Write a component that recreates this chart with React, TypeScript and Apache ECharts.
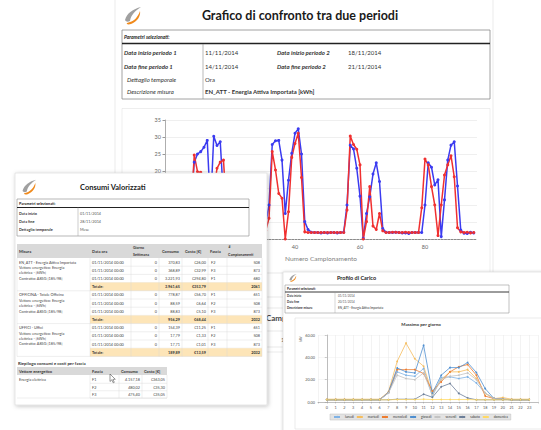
import React, { useEffect, useRef } from "react";
import * as echarts from "echarts";

// ---------- Grafico di confronto (96 campioni orari) ----------
const periodoBlu = [
  1.9, 1.8, 1.9, 1.8, 1.9, 1.8, 2.0, 2.1,
  9.5, 22.6, 25.0, 25.7, 27.0, 29.0, 9.0, 30.2, 27.5, 28.6, 12.0, 3.0,
  2.2, 2.0, 1.9, 1.9, 1.8, 1.9, 1.8, 1.9, 1.9, 1.8, 2.0,
  4.5, 10.0, 27.8, 28.9, 29.0, 23.2, 7.5, 17.3, 25.2, 31.1, 32.4, 25.0, 5.1, 2.8,
  2.0, 1.9, 1.9, 1.8, 1.9, 1.8, 1.9, 1.9, 1.8, 1.9, 2.0,
  10.0, 27.6, 26.5, 20.8, 12.6, 0.2, 7.5, 12.4, 19.1, 22.4, 16.9, 3.1,
  2.0, 1.9, 1.9, 2.0, 1.9, 1.8, 1.8, 1.6, 1.9, 1.9, 1.9,
  1.9, 10.0, 22.4, 21.1, 15.9, 17.4, 0.7, 11.5, 23.2, 27.6, 28.6, 15.6, 2.6,
  1.7, 1.6, 2.0, 1.8,
];
const periodoRosso = [
  2.0, 1.9, 1.9, 2.0, 1.9, 1.9, 2.0, 2.2,
  8.0, 24.7, 19.8, 19.6, 15.0, 12.0, 2.5, 14.0, 20.8, 22.6, 23.2, 7.0,
  2.5, 2.0, 1.9, 2.0, 1.9, 1.9, 2.0, 1.9, 1.9, 2.0, 1.9,
  2.5, 6.1, 25.7, 20.3, 13.4, 12.0, 0.0, 8.0, 24.0, 28.1, 31.1, 18.1, 2.1, 1.9,
  1.9, 1.9, 1.9, 1.9, 1.9, 1.9, 1.9, 1.9, 1.9, 1.9, 1.9,
  8.5, 30.3, 27.8, 26.4, 21.8, 0.0, 5.1, 15.4, 3.8, 2.8, 7.5, 2.4,
  1.9, 1.9, 2.0, 2.0, 1.9, 1.9, 2.0, 1.9, 1.9, 1.9, 1.9,
  9.2, 23.5, 21.8, 15.4, 10.0, 1.0, 10.0, 18.8, 21.8, 24.5, 18.3, 3.3, 2.1,
  1.9, 2.0, 1.8, 1.9,
];

// ---------- Profilo di carico (massimo per giorno, ore 0..23) ----------
const giorni = ["lunedì", "martedì", "mercoledì", "giovedì", "venerdì", "sabato", "domenica"];
const coloriGiorni = ["#7fb2e5", "#f5bd5e", "#ed7d31", "#4f8fd0", "#c4c4c4", "#6d7f99", "#ffd966"];
const lunedi = [2, 2, 2, 2, 2, 2, 2, 8, 27, 24, 23, 30, 5, 22, 22.5, 21, 22.5, 17, 8, 3, 2.5, 2, 2, 2];
const martedi = [2.5, 2.5, 2.5, 2.5, 2.5, 2.5, 2.5, 9, 36.4, 52.7, 38.8, 32, 7.7, 20, 27, 27, 29, 21, 7.7, 3, 4, 2.5, 2.5, 2.5];
const mercoledi = [2, 2, 2, 2, 2, 2, 2, 8.5, 29, 29, 29, 25.5, 9.8, 18, 27, 31.6, 33.5, 24, 5.3, 3, 2.5, 2, 2, 2];
const giovedi = [2, 2, 2, 2, 2, 2, 2, 8.5, 30.5, 27, 26, 50.7, 8, 24, 30.8, 30.8, 35.3, 26.4, 12, 3, 2.5, 2, 2, 2];
const venerdi = [2, 2, 2, 2, 2, 2, 2, 8, 24, 21, 20, 26, 6, 20, 23, 24, 26, 20, 8, 3, 2.5, 2, 2, 2];
const sabato = [2, 2, 2, 2, 2, 2, 2, 2, 2.5, 2.5, 2.5, 7, 4.2, 13.6, 16.6, 7.7, 3.6, 2, 2, 2, 2, 2, 2, 2];
const domenica = [2, 2, 2, 2, 2, 2, 2, 2, 2.2, 2.2, 2.2, 2.5, 2.2, 2.2, 2.2, 2.2, 2.2, 2, 2, 2, 2, 2, 2, 2];
const profili = [lunedi, martedi, mercoledi, giovedi, venerdi, sabato, domenica];

// ---------- Consumi valorizzati (tabella) ----------
const misure = [
  ["EN_ATT - Energia Attiva Importata", "Vettore energetico: Energia", "elettrica - [kWh]", "Contratto: A8SG [185/98]"],
  ["OFFICINA - Totale Officina", "Vettore energetico: Energia", "elettrica - [kWh]", "Contratto: A8SG [185/98]"],
  ["UFFICI - Uffici", "Vettore energetico: Energia", "elettrica - [kWh]", "Contratto: A8SG [185/98]"],
];
const dataOra = "01/11/2014 00:00";
const consumi = [["370,83", "368,89", "3.221,93"], ["778,87", "88,59", "88,83"], ["154,39", "17,79", "17,71"]];
const costi = [["€26,00", "€32,99", "€294,80"], ["€56,70", "€6,64", "€5,10"], ["€11,25", "€1,33", "€1,01"]];
const fasce = [["F2", "F3", "F1"], ["F1", "F2", "F3"], ["F1", "F2", "F3"]];
const campionamenti = [["508", "873", "680"], ["651", "508", "873"], ["651", "508", "873"]];
const totConsumo = ["3.961,65", "956,29", "189,89"];
const totCosto = ["€353,79", "€68,44", "€13,59"];
const totCamp = ["2061", "2032", "2032"];
const riepFasce = ["F1", "F2", "F3"];
const riepConsumo = ["4.157,18", "480,02", "475,40"];
const riepCosto = ["€363,05", "€35,30", "€35,05"];

const LOGO_GREY = "M3 15 C5 8 11 4 19 2 C13 6 9 10 8 16 C6 17 4 17 3 15 Z";
const LOGO_ORANGE = "M8 17 C12 16 16 12 18 6 C19 11 15 17 9 19 C6 20 4 19 5 18 Z";
echarts.graphic.registerShape("logoGrey", echarts.graphic.extendPath(LOGO_GREY, {}));
echarts.graphic.registerShape("logoOrange", echarts.graphic.extendPath(LOGO_ORANGE, {}));

const FONT = "Lato";

function buildGraphics() {
  const els: any[] = [];
  const txt = (x: number, y: number, text: string, o: any = {}) =>
    els.push({
      type: "text", x, y, z: o.z ?? 1, silent: true, rotation: o.rot || 0,
      style: {
        text, fontSize: o.fs ?? 5, fontFamily: FONT,
        fontWeight: o.b ? "bold" : "normal", fontStyle: o.i ? "italic" : "normal",
        fill: o.c || "#333", align: o.a || "left", verticalAlign: "middle",
      },
    });
  const rect = (x: number, y: number, w: number, h: number, o: any = {}) =>
    els.push({
      type: "rect", z: o.z ?? 1, silent: true, shape: { x, y, width: w, height: h },
      style: {
        fill: o.f || "none", stroke: o.s || "none", lineWidth: o.lw ?? 0.5,
        shadowBlur: o.sb || 0, shadowColor: o.sc || "rgba(0,0,0,0)",
        shadowOffsetX: o.sx || 0, shadowOffsetY: o.sy || 0,
      },
    });
  const line = (x1: number, y1: number, x2: number, y2: number, o: any = {}) =>
    els.push({ type: "line", z: o.z ?? 1, silent: true, shape: { x1, y1, x2, y2 }, style: { stroke: o.s || "#ccc", lineWidth: o.lw ?? 0.5 } });
  const logo = (x: number, y: number, s: number, z: number) =>
    els.push({
      type: "group", x, y, scaleX: s, scaleY: s, z,
      children: [
        { type: "logoGrey", z, silent: true, style: { fill: "#a0a0a0" } },
        { type: "logoOrange", z, silent: true, style: { fill: "#f08a1c" } },
      ],
    });

  // ===== Documento 1 =====
  rect(115, -5, 378, 357, { f: "#fff", s: "#d6d6d6", z: 0 });
  logo(122, 5, 1.0, 1);
  txt(300, 15, "Grafico di confronto tra due periodi", { fs: 12.5, b: true, a: "center", c: "#1a1a1a" });
  rect(122, 30, 368, 69, { s: "#8a8a8a", lw: 0.8 });
  txt(124, 37, "Parametri selezionati:", { fs: 5, b: true, i: true, c: "#222" });
  line(122, 43.5, 490, 43.5, { s: "#222", lw: 1.4 });
  line(203, 44, 203, 99, { s: "#8a8a8a", lw: 0.6 });
  txt(124, 52, "Data inizio periodo 1", { fs: 6, b: true, i: true, c: "#333" });
  txt(205, 52, "11/11/2014", { fs: 6, c: "#333" });
  txt(277, 52, "Data inizio periodo 2", { fs: 6, b: true, i: true, c: "#333" });
  txt(348, 52, "18/11/2014", { fs: 6, c: "#333" });
  txt(124, 66, "Data fine periodo 1", { fs: 6, b: true, i: true, c: "#333" });
  txt(205, 66, "14/11/2014", { fs: 6, c: "#333" });
  txt(277, 66, "Data fine periodo 2", { fs: 6, b: true, i: true, c: "#333" });
  txt(348, 66, "21/11/2014", { fs: 6, c: "#333" });
  txt(127, 79, "Dettaglio temporale", { fs: 6, i: true, c: "#333" });
  txt(205, 79, "Ora", { fs: 6, c: "#333" });
  txt(127, 91, "Descrizione misura", { fs: 6, i: true, c: "#333" });
  txt(205, 91, "EN_ATT - Energia Attiva Importata [kWh]", { fs: 6, b: true, c: "#333" });
  line(122, 108.5, 490, 108.5, { s: "#dcdcdc" });
  line(122, 108.5, 122, 300, { s: "#dcdcdc" });
  line(490, 108.5, 490, 300, { s: "#dcdcdc" });
  line(255, 273, 300, 273, { s: "#d0d0d0" });
  line(255, 297, 300, 297, { s: "#d0d0d0" });
  line(255, 308, 300, 308, { s: "#d0d0d0" });
  txt(266, 318, "Campionamenti", { fs: 8, b: true, c: "#444" });
  rect(262, 331, 30, 16, { s: "#d0d0d0" });
  txt(281, 339, "1", { fs: 6, c: "#444" });

  // ===== Documento 3 (Profilo di Carico) =====
  rect(283, 272, 280, 170, { f: "#fff", s: "#cfcfcf", z: 2, sb: 3, sc: "rgba(0,0,0,0.2)" });
  logo(288, 273, 0.45, 2.5);
  txt(337, 277.5, "Profilo di Carico", { fs: 5.5, b: true, c: "#222", z: 2.5 });
  rect(285, 285, 224, 28, { s: "#999", lw: 0.6, z: 2.5 });
  txt(287, 288.5, "Parametri selezionati:", { fs: 3, b: true, c: "#222", z: 2.5 });
  line(285, 292, 509, 292, { s: "#222", lw: 0.9, z: 2.5 });
  line(335, 292, 335, 313, { s: "#999", lw: 0.4, z: 2.5 });
  txt(287, 296, "Data inizio", { fs: 3, b: true, c: "#333", z: 2.5 });
  txt(338, 296, "01/11/2014", { fs: 3, c: "#555", z: 2.5 });
  txt(287, 302, "Data fine", { fs: 3, b: true, c: "#333", z: 2.5 });
  txt(338, 302, "20/11/2014", { fs: 3, c: "#555", z: 2.5 });
  txt(287, 308, "Descrizione misura", { fs: 3, b: true, c: "#333", z: 2.5 });
  txt(338, 308, "EN_ATT - Energia Attiva Importata", { fs: 3, c: "#333", z: 2.5 });
  rect(295, 318, 260, 111, { s: "#dedede", lw: 0.6, z: 2.5 });
  txt(421, 324, "Massimo per giorno", { fs: 4.5, b: true, a: "center", c: "#333", z: 2.5 });
  txt(301, 339, "kW", { fs: 3.5, c: "#555", a: "center", rot: Math.PI / 2, z: 2.5 });

  // ===== Documento 2 (Consumi Valorizzati) =====
  const Z = 10;
  rect(15, 173, 252, 232, { f: "#fff", s: "#cccccc", z: Z, sb: 4, sc: "rgba(0,0,0,0.25)", sx: 1, sy: 1 });
  logo(20, 178, 0.85, Z + 1);
  txt(80, 187, "Consumi Valorizzati", { fs: 7.5, b: true, c: "#222", z: Z + 1 });
  rect(17, 199, 232, 37, { s: "#999", lw: 0.7, z: Z + 1 });
  txt(19, 203, "Parametri selezionati:", { fs: 3.8, b: true, c: "#222", z: Z + 1 });
  line(17, 207.5, 249, 207.5, { s: "#222", lw: 1.1, z: Z + 1 });
  line(78, 207.5, 78, 236, { s: "#999", lw: 0.5, z: Z + 1 });
  const par2 = [["Data inizio", "01/11/2014"], ["Data fine", "28/11/2014"], ["Dettaglio temporale", "Mese"]];
  par2.forEach((p, k) => {
    txt(19, 213 + k * 8, p[0], { fs: 3.8, b: true, c: "#333", z: Z + 1 });
    txt(80, 213 + k * 8, p[1], { fs: 3.8, c: "#555", z: Z + 1 });
  });

  // header tabella
  rect(17, 244, 245, 14, { f: "#d9d9d9", z: Z + 1 });
  const hy = 251;
  txt(19, hy, "Misura", { fs: 4, b: true, c: "#333", z: Z + 2 });
  txt(92, hy, "Data ora", { fs: 4, b: true, c: "#333", z: Z + 2 });
  txt(133, hy - 3.4, "Giorno", { fs: 3.6, b: true, c: "#333", z: Z + 2 });
  txt(133, hy + 3.4, "Settimana", { fs: 3.6, b: true, c: "#333", z: Z + 2 });
  txt(162, hy, "Consumo", { fs: 4, b: true, c: "#333", z: Z + 2 });
  txt(185, hy, "Costo [€]", { fs: 4, b: true, c: "#333", z: Z + 2 });
  txt(210, hy, "Fascia", { fs: 4, b: true, c: "#333", z: Z + 2 });
  txt(228.5, hy - 3.8, "#", { fs: 3.4, b: true, c: "#333", z: Z + 2 });
  txt(228, hy + 3.4, "Campionamenti", { fs: 3.6, b: true, c: "#333", z: Z + 2 });

  const rowH = 8.2;
  const start = 258;
  const colX = [90, 131, 159, 182, 208, 227];
  misure.forEach((m, g) => {
    const gy = start + g * 4 * rowH;
    m.forEach((ln, k) => txt(19, gy + 4 + k * 5.4, ln, { fs: 3.8, c: "#444", z: Z + 2 }));
    for (let r = 0; r < 3; r++) {
      const yc = gy + r * rowH + rowH / 2;
      txt(92, yc, dataOra, { fs: 3.8, c: "#444", z: Z + 2 });
      txt(157, yc, "0", { fs: 3.8, c: "#444", a: "right", z: Z + 2 });
      txt(180, yc, consumi[g][r], { fs: 3.8, c: "#444", a: "right", z: Z + 2 });
      txt(206, yc, costi[g][r], { fs: 3.8, c: "#444", a: "right", z: Z + 2 });
      txt(211, yc, fasce[g][r], { fs: 3.8, c: "#444", z: Z + 2 });
      txt(260, yc, campionamenti[g][r], { fs: 3.8, c: "#444", a: "right", z: Z + 2 });
      line(90, gy + (r + 1) * rowH, 262, gy + (r + 1) * rowH, { s: "#d4d4d4", lw: 0.4, z: Z + 1 });
    }
    const ty = gy + 3 * rowH;
    rect(90, ty, 172, rowH, { f: "#fde5b8", z: Z + 1 });
    txt(92, ty + rowH / 2, "Totale:", { fs: 3.8, b: true, c: "#333", z: Z + 2 });
    txt(180, ty + rowH / 2, totConsumo[g], { fs: 3.8, b: true, c: "#333", a: "right", z: Z + 2 });
    txt(206, ty + rowH / 2, totCosto[g], { fs: 3.8, b: true, c: "#333", a: "right", z: Z + 2 });
    txt(260, ty + rowH / 2, totCamp[g], { fs: 3.8, b: true, c: "#333", a: "right", z: Z + 2 });
    line(17, ty + rowH, 262, ty + rowH, { s: "#d4d4d4", lw: 0.4, z: Z + 1 });
  });
  const tEnd = start + 12 * rowH;
  colX.forEach((x) => line(x, start, x, tEnd, { s: "#d4d4d4", lw: 0.4, z: Z + 1 }));
  line(17, start, 17, tEnd, { s: "#d4d4d4", lw: 0.4, z: Z + 1 });
  line(262, start, 262, tEnd, { s: "#d4d4d4", lw: 0.4, z: Z + 1 });

  // riepilogo
  txt(18, 363, "Riepilogo consumi e costi per fascia", { fs: 4.3, b: true, c: "#333", z: Z + 1 });
  rect(17, 367, 150, 8, { f: "#d9d9d9", z: Z + 1 });
  txt(19, 371, "Vettore energetico", { fs: 4, b: true, c: "#333", z: Z + 2 });
  txt(92, 371, "Fascia", { fs: 4, b: true, c: "#333", z: Z + 2 });
  txt(121, 371, "Consumo", { fs: 4, b: true, c: "#333", z: Z + 2 });
  txt(144, 371, "Costo [€]", { fs: 4, b: true, c: "#333", z: Z + 2 });
  txt(19, 379.5, "Energia elettrica", { fs: 3.8, c: "#444", z: Z + 2 });
  riepFasce.forEach((f, k) => {
    const yc = 379.5 + k * 7.5;
    txt(92, yc, f, { fs: 3.8, c: "#444", z: Z + 2 });
    txt(140, yc, riepConsumo[k], { fs: 3.8, c: "#444", a: "right", z: Z + 2 });
    txt(165, yc, riepCosto[k], { fs: 3.8, c: "#444", a: "right", z: Z + 2 });
    line(90, yc + 3.75, 167, yc + 3.75, { s: "#d4d4d4", lw: 0.4, z: Z + 1 });
  });
  [90, 119, 142, 167].forEach((x) => line(x, 375, x, 398, { s: "#d4d4d4", lw: 0.4, z: Z + 1 }));
  line(17, 398, 167, 398, { s: "#d4d4d4", lw: 0.4, z: Z + 1 });
  els.push({
    type: "polygon", z: Z + 3, silent: true,
    shape: { points: [[110, 374], [110, 381.5], [111.8, 379.8], [113.2, 382.8], [114.3, 382.3], [112.9, 379.4], [115.3, 379.3]] },
    style: { fill: "#fff", stroke: "#333", lineWidth: 0.5 },
  });

  return els;
}

export default function App() {
  const ref = useRef<HTMLDivElement>(null);
  useEffect(() => {
    if (!ref.current) return;
    const chart = echarts.init(ref.current, null, { renderer: "svg" });
    const option: any = {
      animation: false,
      backgroundColor: "#ffffff",
      textStyle: { fontFamily: FONT },
      grid: [
        { left: 165, top: 120, width: 312, height: 119 },
        { left: 318, top: 335, width: 229, height: 67 },
      ],
      xAxis: [
        {
          gridIndex: 0, type: "value", min: 0, max: 96, interval: 20, z: 3,
          axisLine: { show: true, lineStyle: { color: "#8a8a8a", width: 1, type: [2, 1.25] } },
          axisTick: { show: false },
          // 0 e 20 restano coperti dal secondo documento
          axisLabel: { fontSize: 5.5, color: "#666", margin: 5, formatter: (v: number) => (v % 20 === 0 && v >= 40 ? String(v) : "") },
          splitLine: { show: false },
          name: "Numero Campionamento", nameLocation: "middle", nameGap: 16,
          nameTextStyle: { fontSize: 6.5, color: "#808080" },
        },
        {
          gridIndex: 1, type: "value", min: -1, max: 24, interval: 1, z: 3,
          axisLine: { show: true, lineStyle: { color: "#999", width: 0.6 } },
          axisTick: { show: true, length: 1.5, lineStyle: { color: "#999", width: 0.5 } },
          axisLabel: { fontSize: 3.8, color: "#555", margin: 3, formatter: (v: number) => (v >= 0 && v <= 23 ? String(v) : "") },
          splitLine: { show: true, lineStyle: { color: "#e6e6e6", width: 0.5 } },
        },
      ],
      yAxis: [
        {
          gridIndex: 0, type: "value", min: 0, max: 35, interval: 5, z: 3,
          axisLine: { show: true, lineStyle: { color: "#999", width: 0.8 } },
          axisTick: { show: true, length: 2.5, lineStyle: { color: "#999" } },
          axisLabel: { fontSize: 5.5, color: "#666", margin: 4 },
          splitLine: { show: true, lineStyle: { color: "#e8e8e8", width: 0.7 } },
        },
        {
          gridIndex: 1, type: "value", min: 0, max: 60, interval: 20, z: 3,
          axisLine: { show: true, lineStyle: { color: "#999", width: 0.6 } },
          axisTick: { show: true, length: 2, lineStyle: { color: "#999", width: 0.5 } },
          axisLabel: { fontSize: 3.8, color: "#555", margin: 3, formatter: (v: number) => v.toFixed(2) },
          splitLine: { show: true, lineStyle: { color: "#eeeeee", width: 0.5 } },
        },
      ],
      legend: {
        data: giorni, left: 330, top: 414, z: 5, orient: "horizontal",
        itemWidth: 6, itemHeight: 2.5, itemGap: 2, padding: [1.5, 3, 1.5, 3],
        backgroundColor: "#e3e3e3", borderColor: "#bfbfbf", borderWidth: 0.5,
        textStyle: { fontSize: 3.3, color: "#333" },
      },
      series: [
        {
          name: "Periodo 1", type: "line", xAxisIndex: 0, yAxisIndex: 0, z: 4,
          data: periodoBlu.map((v, i) => [i, v]),
          symbol: "circle", symbolSize: 3, color: "#3b3bf0",
          lineStyle: { width: 1.5, color: "#3b3bf0" },
        },
        {
          name: "Periodo 2", type: "line", xAxisIndex: 0, yAxisIndex: 0, z: 4,
          data: periodoRosso.map((v, i) => [i, v]),
          symbol: "circle", symbolSize: 3, color: "#f03030",
          lineStyle: { width: 1.5, color: "#f03030" },
        },
        ...giorni.map((g, k) => ({
          name: g, type: "line", xAxisIndex: 1, yAxisIndex: 1, z: 4,
          data: profili[k].map((v, h) => [h, v]),
          symbol: "circle", symbolSize: 1.8, color: coloriGiorni[k],
          lineStyle: { width: 0.8, color: coloriGiorni[k] },
        })),
      ],
      graphic: { elements: buildGraphics() },
    };
    chart.setOption(option);
    return () => chart.dispose();
  }, []);
  return <div ref={ref} style={{ position: "fixed", left: 0, top: 0, width: 541, height: 430 }} />;
}
